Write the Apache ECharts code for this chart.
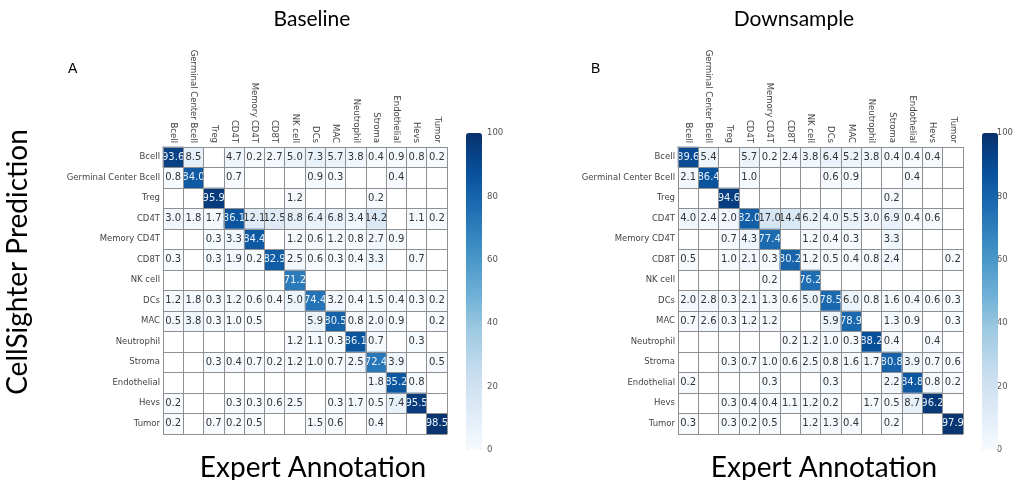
<!DOCTYPE html>
<html>
<head>
<meta charset="utf-8">
<script src="https://cdn.jsdelivr.net/npm/echarts@6/dist/echarts.min.js"></script>
<style>
  html, body { margin: 0; padding: 0; background: #fff; }
  #chart { width: 1016px; height: 480px; }
</style>
</head>
<body>
<div id="chart"></div>
<script>
// cell types (same order on both axes)
const categories = ['Bcell', 'Germinal Center Bcell', 'Treg', 'CD4T', 'Memory CD4T', 'CD8T', 'NK cell',
  'DCs', 'MAC', 'Neutrophil', 'Stroma', 'Endothelial', 'Hevs', 'Tumor'];

// rows = CellSighter prediction, columns = expert annotation, null = empty cell
const baseline = [
  [93.6, 8.5, null, 4.7, 0.2, 2.7, 5.0, 7.3, 5.7, 3.8, 0.4, 0.9, 0.8, 0.2],
  [0.8, 84.0, null, 0.7, null, null, null, 0.9, 0.3, null, null, 0.4, null, null],
  [null, null, 95.9, null, null, null, 1.2, null, null, null, 0.2, null, null, null],
  [3.0, 1.8, 1.7, 86.1, 12.1, 12.5, 8.8, 6.4, 6.8, 3.4, 14.2, null, 1.1, 0.2],
  [null, null, 0.3, 3.3, 84.4, null, 1.2, 0.6, 1.2, 0.8, 2.7, 0.9, null, null],
  [0.3, null, 0.3, 1.9, 0.2, 82.9, 2.5, 0.6, 0.3, 0.4, 3.3, null, 0.7, null],
  [null, null, null, null, null, null, 71.2, null, null, null, null, null, null, null],
  [1.2, 1.8, 0.3, 1.2, 0.6, 0.4, 5.0, 74.4, 3.2, 0.4, 1.5, 0.4, 0.3, 0.2],
  [0.5, 3.8, 0.3, 1.0, 0.5, null, null, 5.9, 80.5, 0.8, 2.0, 0.9, null, 0.2],
  [null, null, null, null, null, null, 1.2, 1.1, 0.3, 86.1, 0.7, null, 0.3, null],
  [null, null, 0.3, 0.4, 0.7, 0.2, 1.2, 1.0, 0.7, 2.5, 72.4, 3.9, null, 0.5],
  [null, null, null, null, null, null, null, null, null, null, 1.8, 85.2, 0.8, null],
  [0.2, null, null, 0.3, 0.3, 0.6, 2.5, null, 0.3, 1.7, 0.5, 7.4, 95.5, null],
  [0.2, null, 0.7, 0.2, 0.5, null, null, 1.5, 0.6, null, 0.4, null, null, 98.5]
];

const downsample = [
  [89.6, 5.4, null, 5.7, 0.2, 2.4, 3.8, 6.4, 5.2, 3.8, 0.4, 0.4, 0.4, null],
  [2.1, 86.4, null, 1.0, null, null, null, 0.6, 0.9, null, null, 0.4, null, null],
  [null, null, 94.6, null, null, null, null, null, null, null, 0.2, null, null, null],
  [4.0, 2.4, 2.0, 82.0, 17.0, 14.4, 6.2, 4.0, 5.5, 3.0, 6.9, 0.4, 0.6, null],
  [null, null, 0.7, 4.3, 77.4, null, 1.2, 0.4, 0.3, null, 3.3, null, null, null],
  [0.5, null, 1.0, 2.1, 0.3, 80.2, 1.2, 0.5, 0.4, 0.8, 2.4, null, null, 0.2],
  [null, null, null, null, 0.2, null, 76.2, null, null, null, null, null, null, null],
  [2.0, 2.8, 0.3, 2.1, 1.3, 0.6, 5.0, 78.5, 6.0, 0.8, 1.6, 0.4, 0.6, 0.3],
  [0.7, 2.6, 0.3, 1.2, 1.2, null, null, 5.9, 78.9, null, 1.3, 0.9, null, 0.3],
  [null, null, null, null, null, 0.2, 1.2, 1.0, 0.3, 88.2, 0.4, null, 0.4, null],
  [null, null, 0.3, 0.7, 1.0, 0.6, 2.5, 0.8, 1.6, 1.7, 80.8, 3.9, 0.7, 0.6],
  [0.2, null, null, null, 0.3, null, null, 0.3, null, null, 2.2, 84.8, 0.8, 0.2],
  [null, null, 0.3, 0.4, 0.4, 1.1, 1.2, 0.2, null, 1.7, 0.5, 8.7, 96.2, null],
  [0.3, null, 0.3, 0.2, 0.5, null, 1.2, 1.3, 0.4, null, 0.2, null, null, 97.9]
];

// colorbar ticks
const cbTicks = [0, 20, 40, 60, 80, 100];

// matplotlib "Blues"
const blues = ['#f7fbff', '#deebf7', '#c6dbef', '#9ecae1', '#6baed6', '#4292c6', '#2171b5', '#08519c', '#08306b'];

const toCells = (matrix) => {
  const out = [];
  matrix.forEach((row, y) => {
    row.forEach((v, x) => {
      if (v === null) return;
      out.push({
        value: [x, y, v],
        label: { color: v > 50 ? '#e8f1fa' : '#333' }
      });
    });
  });
  return out;
};

const lineColor = '#8f8f8f';
const labelFont = 'DejaVu Sans';

const grids = [
  { left: 163, top: 147, width: 284, height: 287 },
  { left: 678, top: 147, width: 285, height: 287 },
  { left: 466, top: 133, width: 16, height: 317 },
  { left: 982, top: 133, width: 16, height: 317 }
];

const heatX = (gi) => ({
  type: 'category', gridIndex: gi, data: categories, position: 'top', z: 5,
  axisLine: { show: true, lineStyle: { color: lineColor } },
  axisTick: { show: false },
  splitLine: { show: true, interval: 0, lineStyle: { color: lineColor, width: 1 } },
  axisLabel: { rotate: 90, interval: 0, fontSize: 8.5, color: '#444', fontFamily: labelFont, margin: 4 }
});
const heatY = (gi) => ({
  type: 'category', gridIndex: gi, data: categories, inverse: true, z: 5,
  axisLine: { show: true, lineStyle: { color: lineColor } },
  axisTick: { show: false },
  splitLine: { show: true, interval: 0, lineStyle: { color: lineColor, width: 1 } },
  axisLabel: { interval: 0, fontSize: 8.5, color: '#444', fontFamily: labelFont, margin: 3 }
});
const cbX = (gi) => ({ type: 'category', gridIndex: gi, data: [''], show: false });
const cbY = (gi) => ({
  type: 'value', gridIndex: gi, min: cbTicks[0], max: cbTicks[cbTicks.length - 1],
  interval: cbTicks[1] - cbTicks[0], position: 'right',
  axisLine: { show: false }, axisTick: { show: false }, splitLine: { show: false },
  axisLabel: { fontSize: 8.5, color: '#555', fontFamily: labelFont, margin: 5 }
});

const heatSeries = (gi, matrix) => ({
  type: 'heatmap', xAxisIndex: gi, yAxisIndex: gi,
  data: toCells(matrix),
  label: { show: true, fontSize: 10, fontFamily: labelFont, formatter: (p) => p.value[2].toFixed(1) },
  emphasis: { disabled: true },
  silent: true
});

const colorbar = (si, gi) => ({
  type: 'continuous', seriesIndex: si, min: 0, max: 100,
  left: grids[gi].left, top: grids[gi].top,
  itemWidth: grids[gi].width, itemHeight: grids[gi].height,
  padding: 0, calculable: false, hoverLink: false,
  inRange: { color: blues }
});

const bigText = { fontFamily: 'Lato', fontSize: 28, fontWeight: 'normal', color: '#000' };

const chart = echarts.init(document.getElementById('chart'));
chart.setOption({
  animation: false,
  backgroundColor: '#fff',
  title: [
    { text: 'Baseline', left: 307, top: 4, textAlign: 'center',
      textStyle: { fontFamily: 'Lato', fontSize: 21, fontWeight: 'normal', color: '#000' } },
    { text: 'Downsample', left: 789, top: 4, textAlign: 'center',
      textStyle: { fontFamily: 'Lato', fontSize: 21, fontWeight: 'normal', color: '#000' } },
    { text: 'A', left: 63, top: 57,
      textStyle: { fontFamily: 'Liberation Sans', fontSize: 14, fontWeight: 'normal', color: '#000' } },
    { text: 'B', left: 586, top: 57,
      textStyle: { fontFamily: 'Liberation Sans', fontSize: 14, fontWeight: 'normal', color: '#000' } },
    { text: 'Expert Annotation', left: 308, top: 449, textAlign: 'center', textStyle: bigText },
    { text: 'Expert Annotation', left: 819, top: 449, textAlign: 'center', textStyle: bigText }
  ],
  graphic: [{
    type: 'text', x: 18, y: 262, rotation: Math.PI / 2, silent: true,
    style: { text: 'CellSighter Prediction', fontFamily: 'Lato', fontSize: 28, fill: '#000',
      textAlign: 'center', textVerticalAlign: 'middle' }
  }],
  grid: grids,
  xAxis: [heatX(0), heatX(1), cbX(2), cbX(3)],
  yAxis: [heatY(0), heatY(1), cbY(2), cbY(3)],
  visualMap: [colorbar(0, 2), colorbar(1, 3)],
  series: [heatSeries(0, baseline), heatSeries(1, downsample)]
});
</script>
</body>
</html>
